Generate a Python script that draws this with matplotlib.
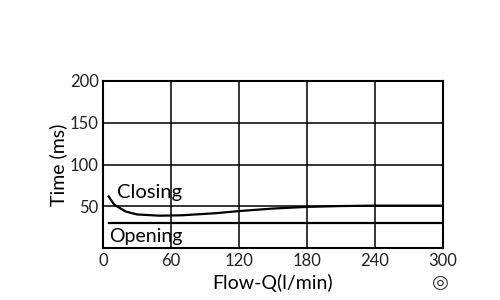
import matplotlib
matplotlib.use("Agg")
import matplotlib.pyplot as plt

flow_closing = [5, 10, 20, 30, 50, 70, 100, 120, 150, 180, 210, 240, 300]
time_closing = [62, 52, 44, 40.5, 39, 39.5, 42, 44.5, 47.5, 49.5, 50.5, 51, 51]
flow_opening = [5, 300]
time_opening = [30, 30]
x_ticks = [0, 60, 120, 180, 240, 300]
y_ticks = [50, 100, 150, 200]

plt.rcParams['font.family'] = ['Lato', 'DejaVu Sans']

fig = plt.figure(figsize=(5, 3), dpi=100)
ax = fig.add_axes([0.206, 0.172, 0.679, 0.559])

ax.plot(flow_closing, time_closing, color='black', linewidth=1.6)
ax.plot(flow_opening, time_opening, color='black', linewidth=1.6)

ax.set_xlim(0, 300)
ax.set_ylim(0, 200)
ax.set_xticks(x_ticks)
ax.set_yticks(y_ticks)
ax.grid(True, color='black', linewidth=1.1)
ax.tick_params(length=0, labelsize=12, colors='#222222', pad=3)
for s in ax.spines.values():
    s.set_linewidth(1.5)
    s.set_color('black')

ax.text(12, 67, 'Closing', fontsize=14.5, va='center', ha='left')
ax.text(5, 14, 'Opening', fontsize=14, va='center', ha='left')

ax.set_xlabel('Flow-Q(l/min)', fontsize=14, labelpad=4)
ax.set_ylabel('Time (ms)', fontsize=14, labelpad=2)
fig.text(0.88, 0.057, '\u25ce', fontsize=14, ha='center', va='center',
         family='DejaVu Sans', color='#333333')

fig.savefig('out.png', dpi=100)
